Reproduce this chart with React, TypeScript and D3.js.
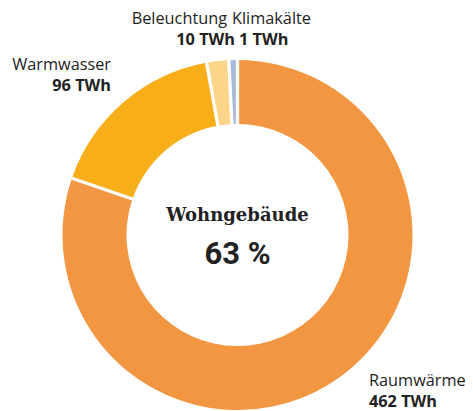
import React from "react";
import * as d3 from "d3";

const categories = ["Raumwärme", "Warmwasser", "Beleuchtung", "Klimakälte"];
const values = [462, 96, 10, 1];
const valueLabels = ["462 TWh", "96 TWh", "10 TWh", "1 TWh"];
const colors = ["#F29642", "#F7AE19", "#FCD48A", "#A8B8DB"];
const centerTitle = "Wohngebäude";
const centerValue = "63 %";

const W = 473;
const H = 411;
const cx = 237.5;
const cy = 235;
const outerR = 175;
const innerR = 111;
const pad = 0.019;

// label anchor positions (layout): name line y, value line y
const labelPos: { x: number; y: number; vx: number; vy: number; anchor: string }[] = [
  { x: 369, y: 385.5, vx: 369, vy: 406.5, anchor: "start" },
  { x: 111, y: 70, vx: 111, vy: 91, anchor: "end" },
  { x: 227, y: 24, vx: 235, vy: 45, anchor: "end" },
  { x: 232, y: 24, vx: 239, vy: 45, anchor: "start" },
];

export default function App() {
  const total = d3.sum(values);
  // tiny slices get a minimum visible size
  const minVal = total * 0.005;
  const pie = d3
    .pie<number>()
    .sort(null)
    .value((d) => Math.max(d, minVal))
    .padAngle(pad);
  const arcs = pie(values);
  const arc = d3
    .arc<d3.PieArcDatum<number>>()
    .innerRadius(innerR)
    .outerRadius(outerR)
    .padRadius(outerR);
  const textColor = "#222222";
  const labelFont = "'Open Sans', 'Noto Sans', sans-serif";
  const fs = 16.3;
  return (
    <svg
      width={W}
      height={H}
      style={{ position: "absolute", left: 0, top: 0, background: "#fff" }}
    >
      <g transform={`translate(${cx},${cy})`}>
        {arcs.map((a, i) => (
          <path key={i} d={arc(a) || ""} fill={colors[i]} />
        ))}
      </g>
      <text
        x={cx}
        y={221}
        textAnchor="middle"
        fontFamily="'DejaVu Serif', serif"
        fontWeight="bold"
        fontSize={18}
        fill={textColor}
      >
        {centerTitle}
      </text>
      <text
        x={cx}
        y={264}
        textAnchor="middle"
        fontFamily="Roboto, sans-serif"
        fontWeight="bold"
        fontSize={31}
        fill={textColor}
      >
        {centerValue}
      </text>
      {categories.map((c, i) => (
        <g key={c}>
          <text
            x={labelPos[i].x}
            y={labelPos[i].y}
            textAnchor={labelPos[i].anchor}
            fontFamily={labelFont}
            fontSize={fs}
            fill={textColor}
          >
            {c}
          </text>
          <text
            x={labelPos[i].vx}
            y={labelPos[i].vy}
            textAnchor={labelPos[i].anchor}
            fontFamily={labelFont}
            fontWeight="bold"
            fontSize={fs}
            fill={textColor}
          >
            {valueLabels[i]}
          </text>
        </g>
      ))}
    </svg>
  );
}
